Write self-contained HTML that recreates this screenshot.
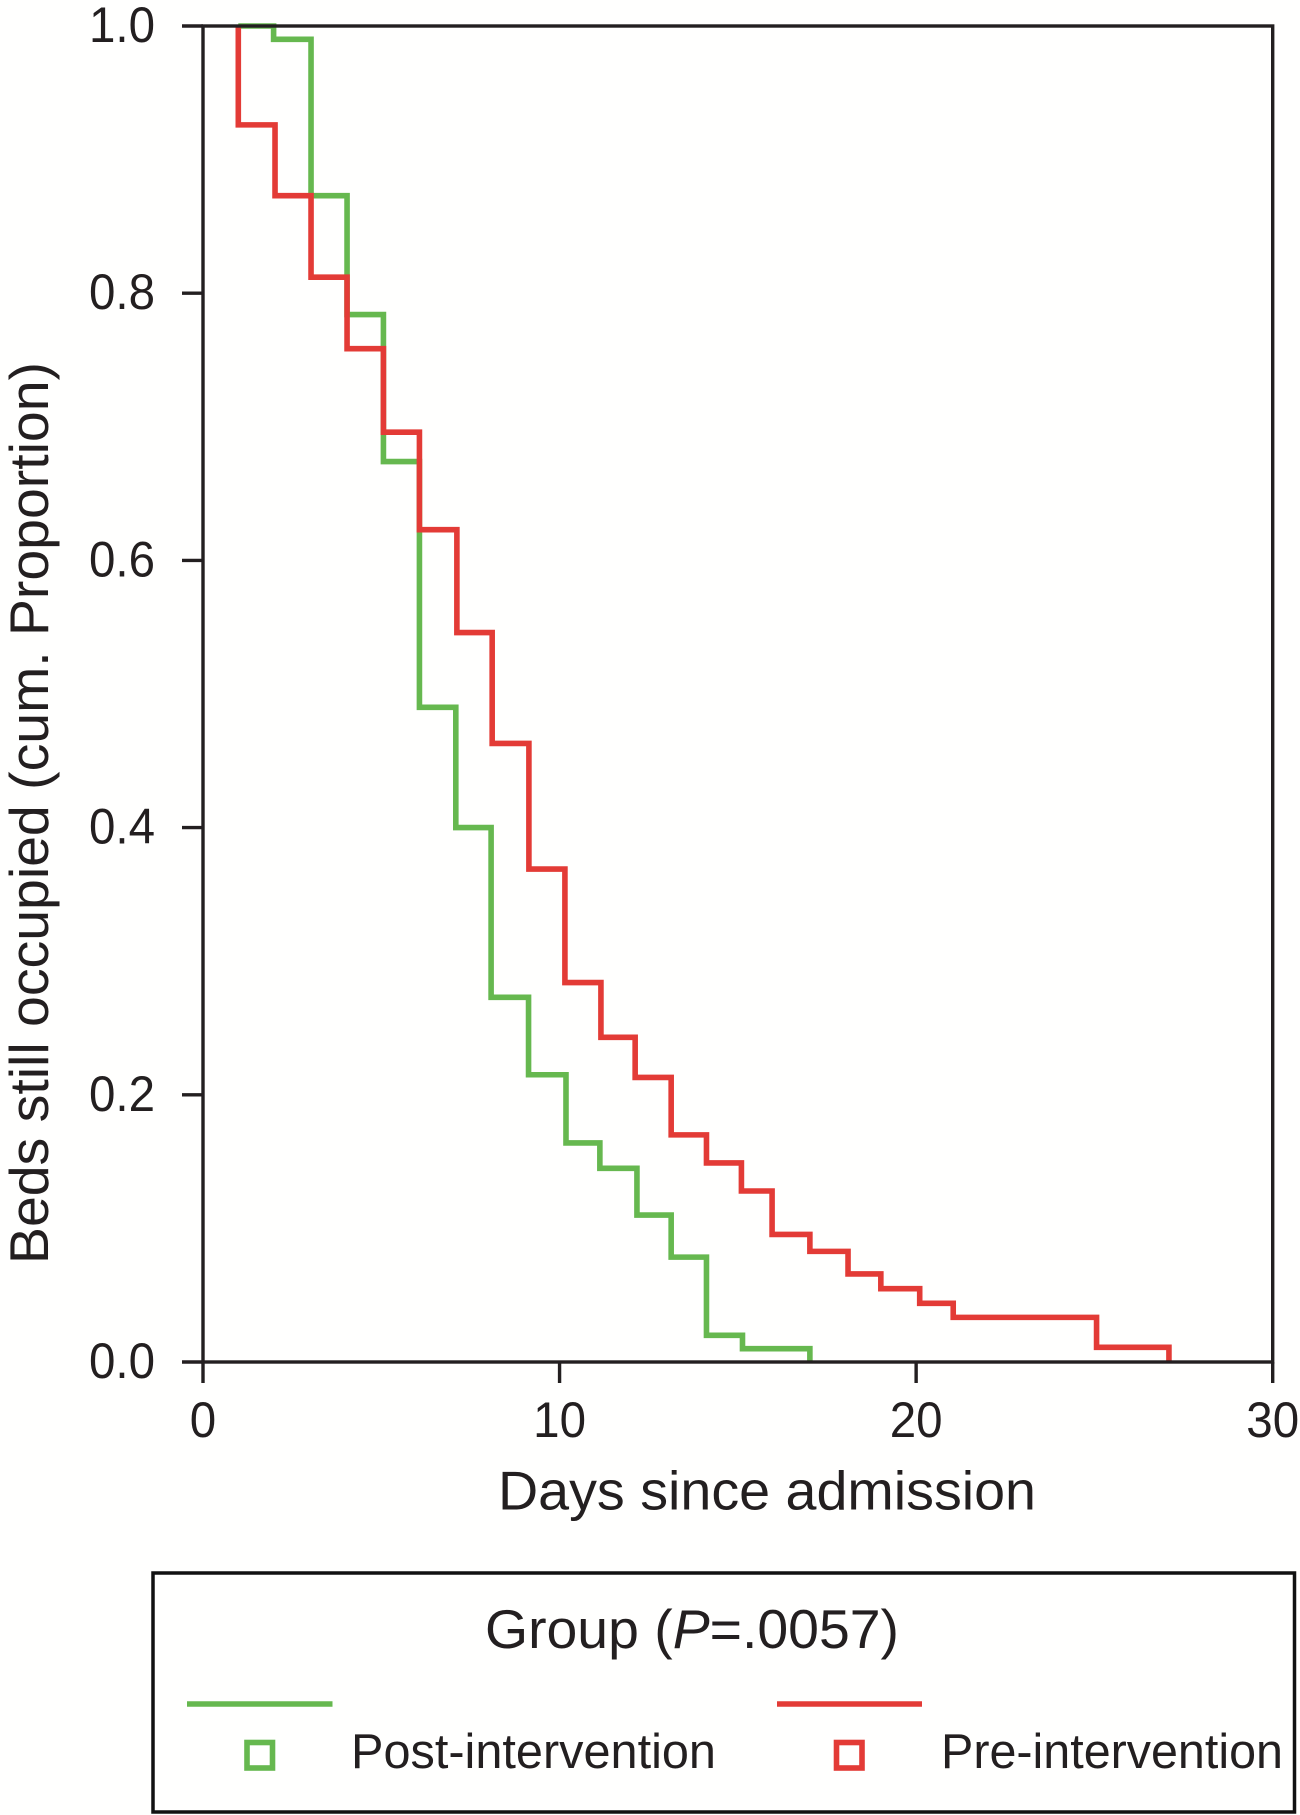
<!DOCTYPE html>
<html lang="en">
<head>
<meta charset="utf-8">
<title>Beds still occupied by days since admission</title>
<style>
html,body{margin:0;padding:0;background:#fff;width:1300px;height:1815px;overflow:hidden}
svg{display:block}
text{font-family:"Liberation Sans",sans-serif;fill:#231f20}
</style>
</head>
<body>
<svg id="chart" xmlns="http://www.w3.org/2000/svg" width="1300" height="1815" viewBox="0 0 1300 1815">
  <rect x="0" y="0" width="1300" height="1815" fill="#fffffe"/>
  <g id="ticks"></g>
  <g id="series"></g>
  <rect x="203" y="26" width="1069.7" height="1336" fill="none" stroke="#231f20" stroke-width="3.4"/>
  <text transform="translate(48,1264) rotate(-90)" font-size="55" textLength="902" lengthAdjust="spacingAndGlyphs">Beds still occupied (cum. Proportion)</text>
  <text x="498" y="1509.5" font-size="55" textLength="538" lengthAdjust="spacingAndGlyphs">Days since admission</text>

  <g>
    <rect x="153" y="1573" width="1141.5" height="239" fill="none" stroke="#111" stroke-width="3.5"/>
    <text x="485" y="1648" font-size="55" textLength="414" lengthAdjust="spacingAndGlyphs">Group (<tspan font-style="italic">P</tspan>=.0057)</text>
    <line x1="187" y1="1704" x2="332.5" y2="1704" stroke="#66b84f" stroke-width="5.6"/>
    <rect x="247" y="1742.5" width="25.5" height="25.5" fill="none" stroke="#66b84f" stroke-width="5.6"/>
    <text x="351" y="1768" font-size="49" textLength="365" lengthAdjust="spacingAndGlyphs">Post-intervention</text>
    <line x1="777" y1="1704" x2="922" y2="1704" stroke="#e33b36" stroke-width="5.6"/>
    <rect x="836.5" y="1742.5" width="25.5" height="25.5" fill="none" stroke="#e33b36" stroke-width="5.6"/>
    <text x="941" y="1768" font-size="49" textLength="342" lengthAdjust="spacingAndGlyphs">Pre-intervention</text>
  </g>
</svg>
<script>
const xTickValues = [0, 10, 20, 30];
const yTickValues = [0, 0.2, 0.4, 0.6, 0.8, 1.0];
const startDay = 0.99;
const startProportion = 1.0;
const postDays = [1.98, 3.03, 4.04, 5.06, 6.07, 7.09, 8.08, 9.13, 10.18, 11.13, 12.17, 13.13, 14.12, 15.13, 17.02];
const postValues = [0.99, 0.873, 0.784, 0.674, 0.49, 0.4, 0.273, 0.215, 0.164, 0.145, 0.11, 0.0785, 0.02, 0.01, 0];
const preDays = [0.99, 2.02, 3.03, 4.04, 5.06, 6.07, 7.12, 8.11, 9.14, 10.15, 11.16, 12.12, 13.13, 14.12, 15.1, 15.96, 17.02, 18.09, 19.01, 20.1, 21.04, 25.06, 27.09];
const preValues = [0.926, 0.873, 0.812, 0.7585, 0.696, 0.623, 0.546, 0.463, 0.369, 0.284, 0.243, 0.213, 0.17, 0.149, 0.128, 0.0955, 0.0828, 0.0659, 0.0549, 0.0439, 0.0334, 0.011, 0];

const NS = 'http://www.w3.org/2000/svg';
const xScale = function (d) { return 203 + (d / 30) * 1069.7; };
const yScale = function (p) { return 1362 - p * 1336; };

function make(tag, attrs, parent) {
  const el = document.createElementNS(NS, tag);
  Object.keys(attrs).forEach(function (k) { el.setAttribute(k, attrs[k]); });
  parent.appendChild(el);
  return el;
}

const ticks = document.getElementById('ticks');
xTickValues.forEach(function (v) {
  const x = xScale(v);
  const t = make('line', { x1: x, x2: x, y1: 1362, y2: 1383, stroke: '#231f20', 'stroke-width': 3.4 }, ticks);
  
  
  const l = make('text', { transform: 'translate(' + x + ',1437) scale(0.95,1)', 'font-size': 50, 'text-anchor': 'middle' }, ticks);
  
  
  l.textContent = String(v);
});
yTickValues.forEach(function (v) {
  const y = yScale(v);
  const t = make('line', { x1: 182, x2: 203, y1: y, y2: y, stroke: '#231f20', 'stroke-width': 3.4 }, ticks);
  
  
  const l = make('text', { transform: 'translate(155,' + (y + 16) + ') scale(0.95,1)', 'font-size': 50, 'text-anchor': 'end' }, ticks);
  
  
  l.textContent = v.toFixed(1);
});

function stepPath(days, values) {
  let d = 'M' + xScale(startDay) + ' ' + yScale(startProportion);
  days.forEach(function (day, i) {
    d += ' H' + xScale(day) + ' V' + yScale(values[i]);
  });
  return d;
}

const seriesGroup = document.getElementById('series');
const postLine = make('path', { d: stepPath(postDays, postValues), fill: 'none', stroke: '#66b84f', 'stroke-width': 5.6, 'stroke-linejoin': 'miter' }, seriesGroup);


const preLine = make('path', { d: stepPath(preDays, preValues), fill: 'none', stroke: '#e33b36', 'stroke-width': 5.6, 'stroke-linejoin': 'miter' }, seriesGroup);


</script>
</body>
</html>
